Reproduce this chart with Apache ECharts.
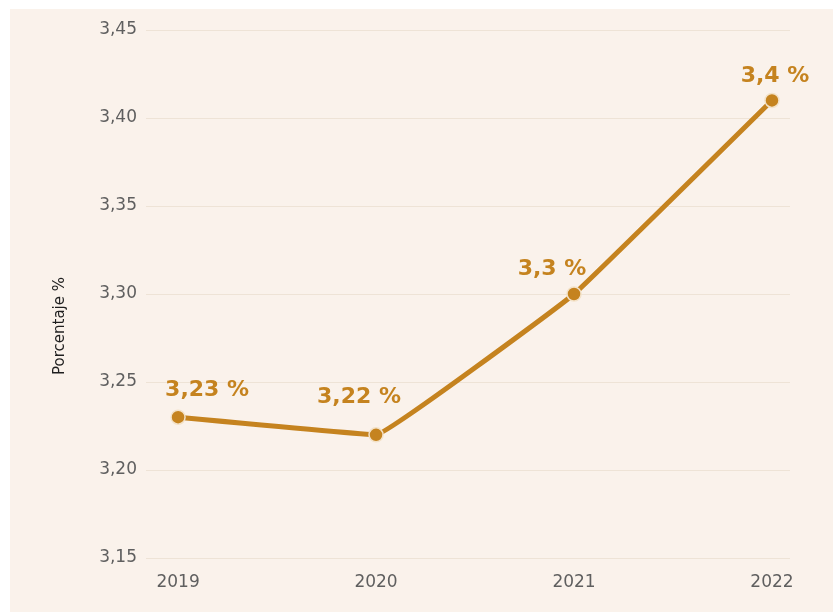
<!DOCTYPE html>
<html>
<head>
<meta charset="utf-8">
<script src="https://cdn.jsdelivr.net/npm/echarts@6/dist/echarts.min.js"></script>
<style>
  html, body { margin: 0; padding: 0; background: #ffffff; }
  #chart { position: absolute; left: 10px; top: 9px; width: 823px; height: 603px; }
</style>
</head>
<body>
<div id="chart"></div>
<script>
// datos
var years = [2019, 2020, 2021, 2022];
var values = [3.23, 3.22, 3.30, 3.41];
var pointLabels = ['3,23 %', '3,22 %', '3,3 %', '3,4 %'];
var yTicks = [3.15, 3.20, 3.25, 3.30, 3.35, 3.40, 3.45];

var mainColor = '#c5831f';
var chart = echarts.init(document.getElementById('chart'));

// desplazamiento de cada etiqueta respecto al punto
var labelOffsets = [[29, -27], [-17, -38], [-22, -25], [3, -24]];

var seriesData = years.map(function (y, i) {
  return {
    value: [y, values[i]],
    label: { offset: labelOffsets[i] }
  };
});

var option = {
  backgroundColor: '#faf2eb',
  animation: false,
  grid: { left: 136, right: 43, top: 21, bottom: 54 },
  graphic: [{
    type: 'text',
    left: 43,
    top: 268,
    rotation: Math.PI / 2,
    style: {
      text: 'Porcentaje %',
      fill: '#1e1e1e',
      font: '15px "DejaVu Sans"'
    }
  }],
  xAxis: {
    type: 'value',
    min: 2018.838,
    max: 2022.091,
    axisLine: { show: false },
    axisTick: { show: false },
    splitLine: { show: false },
    axisLabel: {
      customValues: years,
      margin: 16,
      color: '#5f5f5f',
      fontSize: 17,
      fontFamily: 'DejaVu Sans',
      formatter: function (v) { return String(Math.round(v)); }
    }
  },
  yAxis: {
    type: 'value',
    min: yTicks[0],
    max: yTicks[yTicks.length - 1],
    interval: 0.05,
    axisLine: { show: false },
    axisTick: { show: false },
    splitLine: { lineStyle: { color: '#eee3d6', width: 1 } },
    axisLabel: {
      margin: 9,
      color: '#5f5f5f',
      fontSize: 17,
      fontFamily: 'DejaVu Sans',
      formatter: function (v) { return v.toFixed(2).replace('.', ','); }
    }
  },
  series: [{
    type: 'line',
    data: seriesData,
    smooth: 0.05,
    symbol: 'circle',
    symbolSize: 14,
    lineStyle: { color: mainColor, width: 5 },
    itemStyle: { color: mainColor, borderColor: '#f3e2c8', borderWidth: 1.5 },
    label: {
      show: true,
      position: 'inside',
      color: mainColor,
      fontSize: 22,
      fontWeight: 'bold',
      fontFamily: 'DejaVu Sans',
      formatter: function (p) { return pointLabels[p.dataIndex]; }
    }
  }]
};

chart.setOption(option);
</script>
</body>
</html>
